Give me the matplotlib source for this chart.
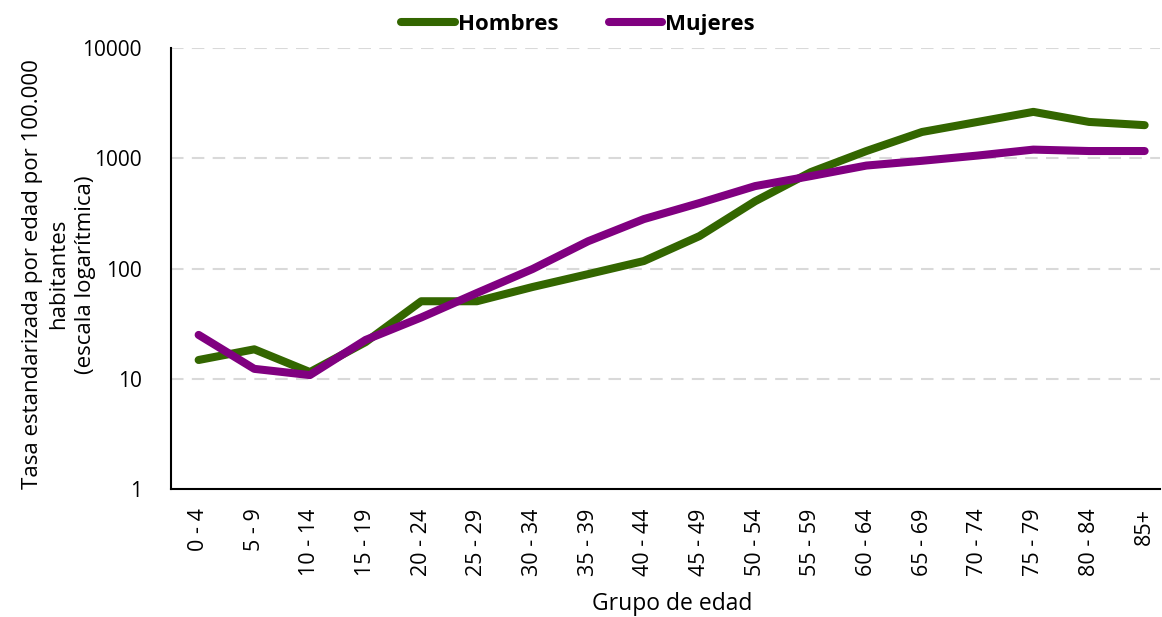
import matplotlib
matplotlib.use("Agg")
import matplotlib.pyplot as plt
from matplotlib.ticker import FixedLocator, FixedFormatter, NullLocator

plt.rcParams['font.family'] = ['Open Sans', 'DejaVu Sans']

categorias = ["0 - 4", "5 - 9", "10 - 14", "15 - 19", "20 - 24", "25 - 29", "30 - 34",
              "35 - 39", "40 - 44", "45 - 49", "50 - 54", "55 - 59", "60 - 64",
              "65 - 69", "70 - 74", "75 - 79", "80 - 84", "85+"]
hombres = [14.8, 18.5, 11.5, 21.5, 50.5, 50.5, 68, 89, 117, 197, 408, 750, 1165,
           1735, 2140, 2640, 2140, 2000]
mujeres = [25, 12.3, 10.8, 22.5, 36, 60, 99, 177, 281, 393, 560, 690, 860,
           950, 1060, 1200, 1165, 1165]
yticks = [1, 10, 100, 1000, 10000]
ytick_labels = ["1", "10", "100", "1000", "10000"]

fig = plt.figure(figsize=(11.62, 6.17), dpi=100)
ax = fig.add_axes([0.147, 0.2075, 0.851, 0.7145])

x = list(range(len(categorias)))
ax.plot(x, hombres, color='#336600', lw=5.8, solid_capstyle='round',
        solid_joinstyle='round', label='Hombres', zorder=3)
ax.plot(x, mujeres, color='#800080', lw=5.8, solid_capstyle='round',
        solid_joinstyle='round', label='Mujeres', zorder=4)

ax.set_yscale('log')
ax.set_ylim(1, 10000)
ax.set_xlim(-0.5, 17.27)
ax.yaxis.set_major_locator(FixedLocator(yticks))
ax.yaxis.set_major_formatter(FixedFormatter(ytick_labels))
ax.yaxis.set_minor_locator(NullLocator())
ax.set_xticks(x)
ax.set_xticklabels(categorias, rotation=90, fontsize=15.5)
ax.tick_params(axis='y', labelsize=15, length=0, pad=21)
ax.tick_params(axis='x', length=0, pad=14)

for v in yticks[1:]:
    ax.axhline(v, color='#d9d9d9', lw=1.5, dashes=(6, 4), zorder=1)

for s in ['top', 'right']:
    ax.spines[s].set_visible(False)
for s in ['left', 'bottom']:
    ax.spines[s].set_linewidth(1.5)
    ax.spines[s].set_color('black')

ax.set_ylabel("Tasa estandarizada por edad por 100.000\nhabitantes\n(escala logarítmica)",
              fontsize=16, linespacing=1.35, va='center', ha='center')
ax.yaxis.set_label_coords(-0.113, 0.487)
ax.set_xlabel("Grupo de edad", fontsize=16.5, va='center')
ax.xaxis.set_label_coords(0.5066, (489 - 604) / 441)

fig.legend(loc='upper center', bbox_to_anchor=(0.4975, 1.01), ncol=2, frameon=False,
           prop={'weight': 'bold', 'size': 16}, handlelength=2.4, handletextpad=0.15,
           columnspacing=2.25)

fig.savefig('out.png', dpi=100)
